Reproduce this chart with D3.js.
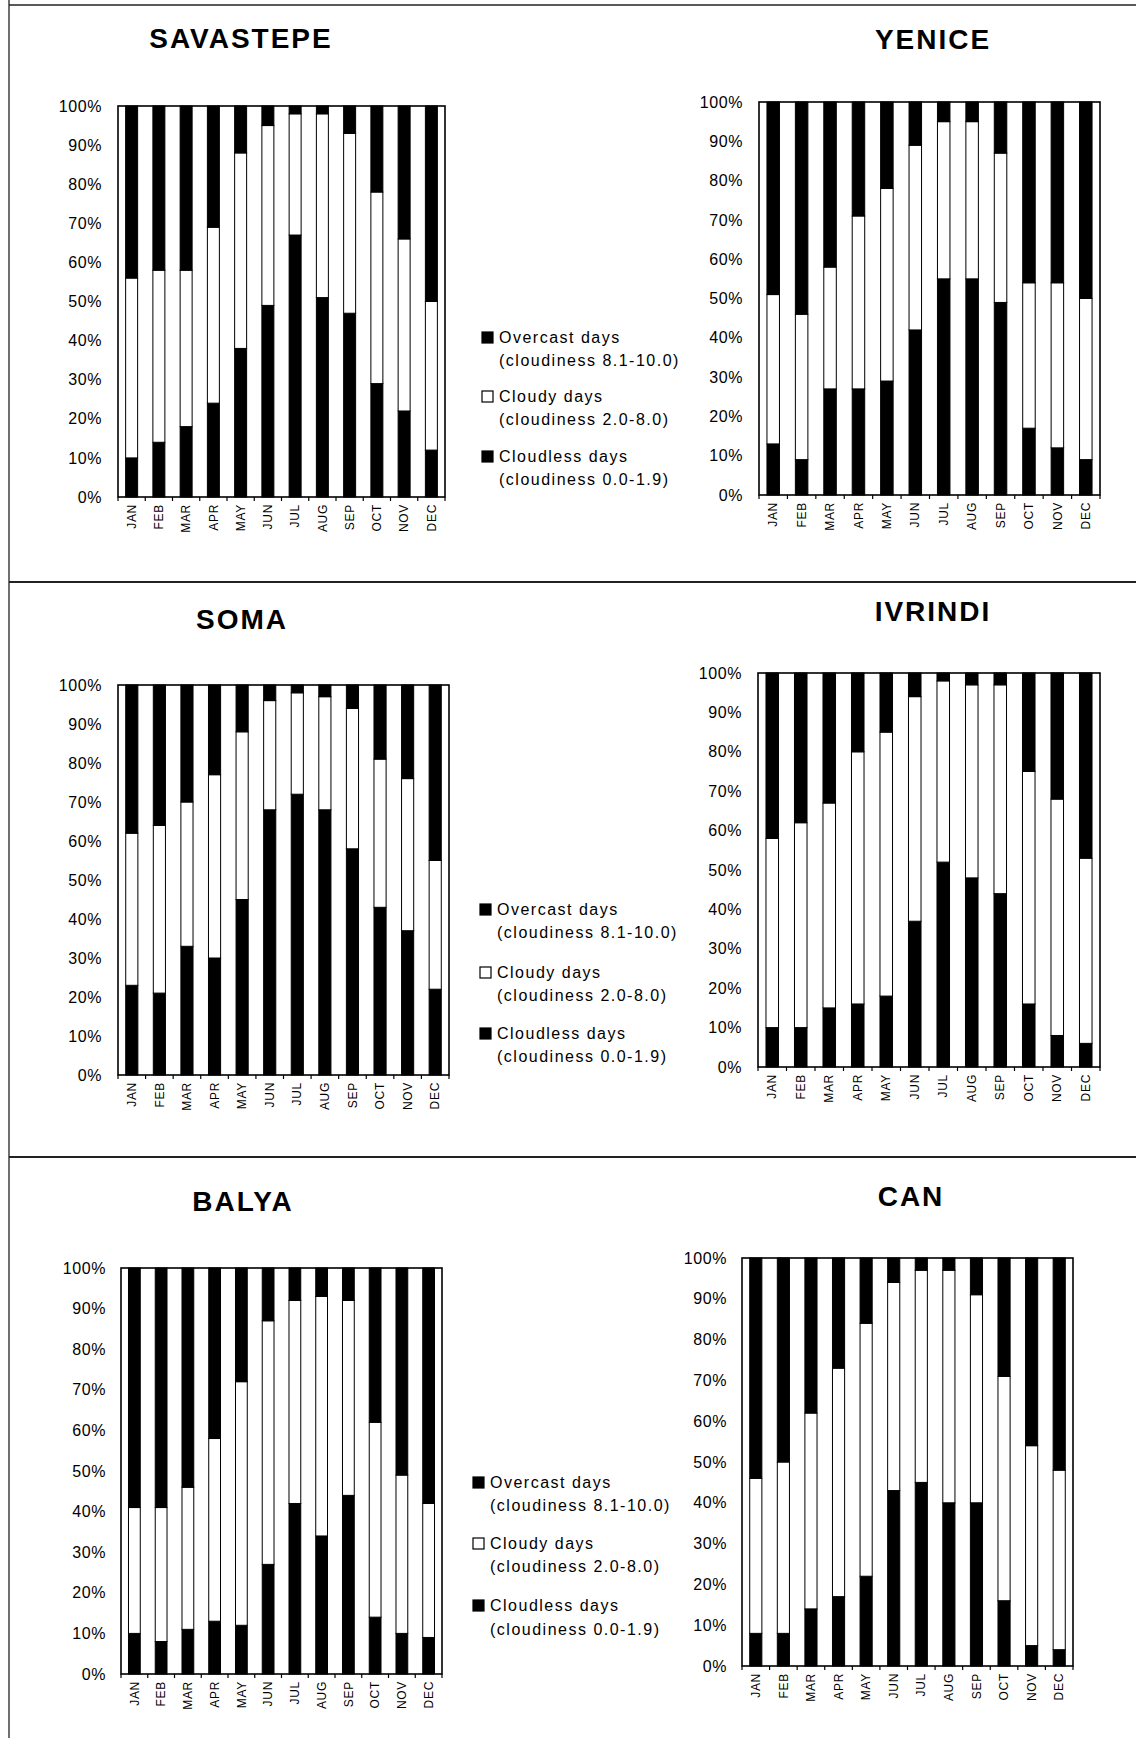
<!DOCTYPE html>
<html>
<head>
<meta charset="utf-8">
<script src="https://cdn.jsdelivr.net/npm/d3@7"></script>
<style>
body{margin:0;background:#fff}
svg{display:block}
text{font-family:"Liberation Sans",Arial,Helvetica,sans-serif;fill:#000}
</style>
</head>
<body>
<svg id="chart" width="1136" height="1738"></svg>
<script>
// ---------- DATA ----------
const months = ["JAN","FEB","MAR","APR","MAY","JUN","JUL","AUG","SEP","OCT","NOV","DEC"];
const yTickValues = [0,10,20,30,40,50,60,70,80,90,100];
const seriesKeys = ["cloudless","cloudy","overcast"];
const legendNames = ["Overcast days","Cloudy days","Cloudless days"];
const legendRanges = ["(cloudiness 8.1-10.0)","(cloudiness 2.0-8.0)","(cloudiness 0.0-1.9)"];
const stationNames = ["SAVASTEPE","YENICE","SOMA","IVRINDI","BALYA","CAN"];

const savastepeCloudless = [10,14,18,24,38,49,67,51,47,29,22,12];
const savastepeCloudy    = [46,44,40,45,50,46,31,47,46,49,44,38];
const savastepeOvercast  = [44,42,42,31,12, 5, 2, 2, 7,22,34,50];

const yeniceCloudless = [13, 9,27,27,29,42,55,55,49,17,12, 9];
const yeniceCloudy    = [38,37,31,44,49,47,40,40,38,37,42,41];
const yeniceOvercast  = [49,54,42,29,22,11, 5, 5,13,46,46,50];

const somaCloudless = [23,21,33,30,45,68,72,68,58,43,37,22];
const somaCloudy    = [39,43,37,47,43,28,26,29,36,38,39,33];
const somaOvercast  = [38,36,30,23,12, 4, 2, 3, 6,19,24,45];

const ivrindiCloudless = [10,10,15,16,18,37,52,48,44,16, 8, 6];
const ivrindiCloudy    = [48,52,52,64,67,57,46,49,53,59,60,47];
const ivrindiOvercast  = [42,38,33,20,15, 6, 2, 3, 3,25,32,47];

const balyaCloudless = [10, 8,11,13,12,27,42,34,44,14,10, 9];
const balyaCloudy    = [31,33,35,45,60,60,50,59,48,48,39,33];
const balyaOvercast  = [59,59,54,42,28,13, 8, 7, 8,38,51,58];

const canCloudless = [ 8, 8,14,17,22,43,45,40,40,16, 5, 4];
const canCloudy    = [38,42,48,56,62,51,52,57,51,55,49,44];
const canOvercast  = [54,50,38,27,16, 6, 3, 3, 9,29,46,52];

const stationSeries = [
  [savastepeCloudless, savastepeCloudy, savastepeOvercast],
  [yeniceCloudless, yeniceCloudy, yeniceOvercast],
  [somaCloudless, somaCloudy, somaOvercast],
  [ivrindiCloudless, ivrindiCloudy, ivrindiOvercast],
  [balyaCloudless, balyaCloudy, balyaOvercast],
  [canCloudless, canCloudy, canOvercast]
];

// ---------- LAYOUT ----------
const panelLayout = [
  {x0:118, x1:445, y0:106, y1:497, tx:241, ty:48,  pad:16},
  {x0:759, x1:1100,y0:102, y1:495, tx:933, ty:49,  pad:16},
  {x0:118, x1:449, y0:685, y1:1075,tx:242, ty:629, pad:16},
  {x0:758, x1:1100,y0:673, y1:1067,tx:933, ty:621, pad:16},
  {x0:121, x1:442, y0:1268,y1:1674,tx:243, ty:1211,pad:15},
  {x0:742, x1:1073,y0:1258,y1:1666,tx:911, ty:1206,pad:15}
];
const legendLayout = [
  {tx:499, ys:[337,360,396,419,456,479]},
  {tx:497, ys:[909,932,972,995,1033,1056]},
  {tx:490, ys:[1482,1505,1543,1566,1605,1629]}
];

const svg = d3.select("#chart");
svg.append("rect").attr("width",1136).attr("height",1738).attr("fill","#fff");

// page frame lines (scanned page)
const frame = svg.append("g").attr("stroke","#222").attr("fill","none");
frame.append("line").attr("x1",9).attr("x2",9).attr("y1",0).attr("y2",1738).attr("stroke-width",1.3);
frame.append("line").attr("x1",9).attr("x2",1136).attr("y1",5).attr("y2",5).attr("stroke-width",1.3);
frame.append("line").attr("x1",9).attr("x2",1136).attr("y1",582).attr("y2",582).attr("stroke-width",1.8);
frame.append("line").attr("x1",9).attr("x2",1136).attr("y1",1157).attr("y2",1157).attr("stroke-width",1.8);

stationNames.forEach((name, si) => {
  const L = panelLayout[si];
  const [cl, cd, ov] = stationSeries[si];
  const rows = months.map((m,i) => ({month:m, cloudless:cl[i], cloudy:cd[i], overcast:ov[i]}));
  const stacked = d3.stack().keys(seriesKeys)(rows);

  const x = d3.scaleBand().domain(months).range([L.x0, L.x1]).paddingInner(0.56).paddingOuter(0.28);
  const y = d3.scaleLinear().domain([0,100]).range([L.y1, L.y0]);
  const g = svg.append("g");

  // title
  g.append("text").attr("x", L.tx).attr("y", L.ty).attr("text-anchor","middle")
    .style("font-size","28px").style("font-weight","bold").style("letter-spacing","2px")
    .text(name);

  // bars
  g.selectAll("g.series").data(stacked).join("g")
    .attr("fill", d => d.key === "cloudy" ? "#fff" : "#000")
    .selectAll("rect").data(d => d).join("rect")
    .attr("x", d => x(d.data.month))
    .attr("width", x.bandwidth())
    .attr("y", d => y(d[1]))
    .attr("height", d => y(d[0]) - y(d[1]))
    .attr("stroke","#000").attr("stroke-width",1);

  // plot frame
  g.append("rect").attr("x",L.x0).attr("y",L.y0).attr("width",L.x1-L.x0).attr("height",L.y1-L.y0)
    .attr("fill","none").attr("stroke","#000").attr("stroke-width",1.6);

  // y axis
  const ya = g.append("g").attr("transform",`translate(${L.x0},0)`)
    .call(d3.axisLeft(y).tickValues(yTickValues).tickFormat(d => d + "%").tickSize(0).tickPadding(L.pad));
  ya.select(".domain").remove();
  ya.selectAll("text").style("font-size","16px").style("letter-spacing","0.6px")
    .style("font-family","'Liberation Sans',Arial,sans-serif").attr("fill","#000");

  // x axis
  const xa = g.append("g").attr("transform",`translate(0,${L.y1})`)
    .call(d3.axisBottom(x).tickSize(0));
  xa.select(".domain").remove();
  xa.selectAll("text")
    .attr("transform","rotate(-90)").attr("x",-7).attr("y",0).attr("dy","0.35em")
    .style("text-anchor","end").style("font-size","12px").style("letter-spacing","0.7px")
    .style("font-family","'Liberation Sans',Arial,sans-serif").attr("fill","#000");

  // category boundary ticks
  const bounds = months.map(m => x(m) + x.bandwidth()/2 - x.step()/2).concat([L.x1]);
  g.append("g").selectAll("line").data(bounds).join("line")
    .attr("x1", d => d).attr("x2", d => d).attr("y1", L.y1).attr("y2", L.y1 + 4)
    .attr("stroke","#000").attr("stroke-width",1.2);
});

// legends, one per row
legendLayout.forEach(LG => {
  const g = svg.append("g");
  legendNames.forEach((nm, i) => {
    const yName = LG.ys[i*2], yRange = LG.ys[i*2+1];
    g.append("rect").attr("x", LG.tx - 17).attr("y", yName - 5).attr("width",11).attr("height",11)
      .attr("fill", i === 1 ? "#fff" : "#000").attr("stroke","#000").attr("stroke-width",1.2);
    g.append("text").attr("x", LG.tx).attr("y", yName).attr("dy","0.35em")
      .style("font-size","16px").style("letter-spacing","1.5px").text(nm);
    g.append("text").attr("x", LG.tx).attr("y", yRange).attr("dy","0.35em")
      .style("font-size","16px").style("letter-spacing","1.5px").text(legendRanges[i]);
  });
});
</script>
</body>
</html>
